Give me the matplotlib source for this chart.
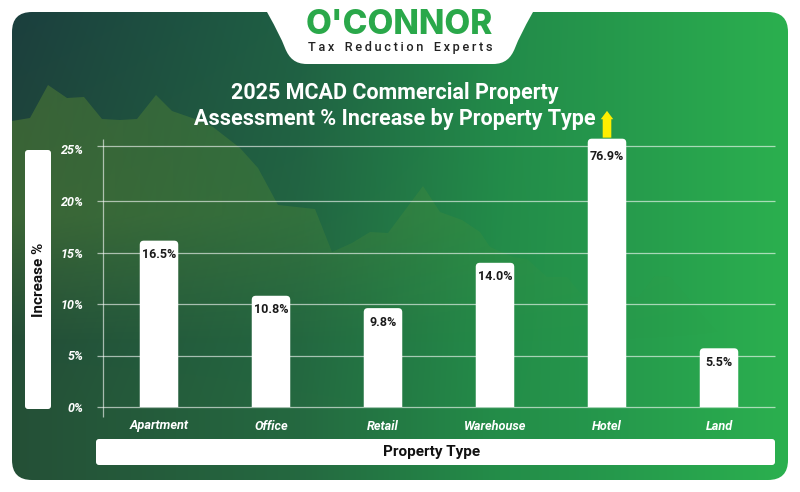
import matplotlib
matplotlib.use('Agg')
import matplotlib.pyplot as plt
import numpy as np
from matplotlib.patches import FancyBboxPatch, PathPatch, Polygon
from matplotlib.path import Path
from matplotlib.colors import to_rgb

plt.rcParams['font.family'] = ['Roboto', 'DejaVu Sans']

# chart data
categories = ['Apartment', 'Office', 'Retail', 'Warehouse', 'Hotel', 'Land']
value_labels = ['16.5%', '10.8%', '9.8%', '14.0%', '76.9%', '5.5%']
bar_heights = [16.15, 10.8, 9.6, 14.0, 26.05, 5.7]  # as drawn, hotel is cut off
y_ticks = [0, 5, 10, 15, 20, 25]
y_tick_labels = ['0%', '5%', '10%', '15%', '20%', '25%']
grid_levels = [0, 5, 10, 15, 20, 25.35]

# skyline behind the chart, in pixels of the image
skyline_x = [12, 30, 48, 67, 84, 102, 120, 137, 156, 172, 195, 213, 240, 258, 278, 315,
             332, 352, 370, 388, 423, 440, 462, 480, 490, 513, 527, 547, 567, 586, 605,
             627, 638, 655, 670, 690, 705, 730, 788]
skyline_y = [121, 118, 85, 98, 97, 119, 120, 119, 95, 111, 119, 127, 148, 168, 205, 209,
             252, 243, 232, 233, 186, 212, 220, 232, 247, 257, 259, 277, 277, 300, 305,
             296, 298, 276, 277, 300, 318, 345, 380]

W, H = 800, 492
fig = plt.figure(figsize=(W / 100, H / 100), dpi=100, facecolor='white')

# background layer in pixel coordinates
bg = fig.add_axes([0, 0, 1, 1], zorder=0)
bg.set_xlim(0, W)
bg.set_ylim(H, 0)
bg.axis('off')

# green panel gradient
stops_x = [12, 300, 500, 788]
stops_c = np.array([to_rgb(c) for c in ['#1b3e3e', '#1f6044', '#228a4a', '#2bb04f']])
xs = np.arange(W) + 0.5
ys = np.arange(H) + 0.5
grad = np.stack([np.interp(xs, stops_x, stops_c[:, i]) for i in range(3)], axis=-1)
grad = np.repeat(grad[np.newaxis, :, :], H, axis=0)
# lighter and greener towards the bottom left
shift = np.clip(ys / 400, 0, 1)[:, None] * np.clip(1 - xs / 600, 0, 1)[None, :]
grad[:, :, 0] += 0.04 * shift
grad[:, :, 1] += 0.07 * shift
grad[:, :, 2] -= 0.03 * shift
grad = np.clip(grad, 0, 1)
panel_img = bg.imshow(grad, extent=(0, W, H, 0), aspect='auto', zorder=1)
panel = FancyBboxPatch((12, 12), 776, 468, boxstyle='round,pad=0,rounding_size=20',
                       facecolor='none', edgecolor='none', transform=bg.transData)
bg.add_patch(panel)
panel_img.set_clip_path(panel)

# skyline, fades out to the right and downwards
rgba = np.zeros((H, W, 4))
rgba[:, :, :3] = to_rgb('#6a9a30')
fade_x = 0.38 * np.clip(1 - xs / 800, 0, 1)
fade_y = np.clip((345 - ys) / 130, 0, 1)
rgba[:, :, 3] = fade_y[:, None] * fade_x[None, :]
sky_img = bg.imshow(rgba, extent=(0, W, H, 0), aspect='auto', zorder=2)
sky_pts = list(zip(skyline_x, skyline_y)) + [(788, 480), (12, 480)]
sky_poly = Polygon(sky_pts, closed=True, facecolor='none', edgecolor='none')
bg.add_patch(sky_poly)
sky_img.set_clip_path(sky_poly)
bg.set_xlim(0, W)
bg.set_ylim(H, 0)

# white tab for the logo
tab_verts = [(262, 5), (267, 12), (277, 30), (281, 38), (285, 48), (289, 58), (295, 64), (307, 64),
             (493, 64), (505, 64), (511, 58), (515, 48), (519, 38), (523, 30), (533, 12),
             (538, 5), (262, 5)]
tab_codes = [Path.MOVETO, Path.LINETO, Path.CURVE4, Path.CURVE4, Path.CURVE4, Path.CURVE4, Path.CURVE4,
             Path.CURVE4, Path.LINETO, Path.CURVE4, Path.CURVE4, Path.CURVE4, Path.CURVE4, Path.CURVE4,
             Path.CURVE4, Path.LINETO, Path.CLOSEPOLY]
bg.add_patch(PathPatch(Path(tab_verts, tab_codes), facecolor='white', edgecolor='none', zorder=3))

bg.text(399.5, 25.5, "O'CONNOR", color='#2aa84a', fontsize=24, fontweight='extra bold',
        family=['Inter', 'DejaVu Sans'], ha='center', va='center', zorder=4)
bg.text(400, 47, '\u2009'.join('Tax') + '\u2009\u2009\u2009\u2009' + '\u2009'.join('Reduction')
        + '\u2009\u2009\u2009\u2009' + '\u2009'.join('Experts'),
        color='#222222', fontsize=9.2, fontweight='medium', ha='center', va='center', zorder=4)

# title
bg.text(394.5, 92.5, '2025 MCAD Commercial Property', color='white', fontsize=15.5,
        fontweight='bold', ha='center', va='center', zorder=4)
bg.text(394.5, 118.5, 'Assessment % Increase by Property Type', color='white', fontsize=15.5,
        fontweight='bold', ha='center', va='center', zorder=4)

# white label boxes
bg.add_patch(FancyBboxPatch((25, 150), 26, 259, boxstyle='round,pad=0,rounding_size=3',
                            facecolor='white', edgecolor='none', zorder=4))
bg.text(39, 280, 'Increase %', color='#111111', fontsize=11, fontweight='bold',
        rotation=90, ha='center', va='center', zorder=5)
bg.add_patch(FancyBboxPatch((96, 439), 679, 26, boxstyle='round,pad=0,rounding_size=3',
                            facecolor='white', edgecolor='none', zorder=4))
bg.text(432, 452, 'Property Type', color='#111111', fontsize=11, fontweight='bold',
        ha='center', va='center', zorder=5)

# chart axes: 0% sits at y=407, 10.3 px per percent, 112 px per category
px_per_pct = 10.3
ymax = 27
ax = fig.add_axes([103 / W, (H - 407) / H, 672 / W, ymax * px_per_pct / H], zorder=1)
ax.patch.set_alpha(0)
ax.set_xlim(-0.5, 5.5)
ax.set_ylim(0, ymax)
for s in ax.spines.values():
    s.set_visible(False)

line_c = (1, 1, 1, 0.6)
tick_out = 6 / 112
ax.hlines(grid_levels, -0.5 - tick_out, 5.5, color=line_c, lw=0.9, zorder=1, clip_on=False)
ax.vlines(-0.5, -1, 26.0, color=line_c, lw=0.9, zorder=1, clip_on=False)

bar_w = 38.5 / 112
x_pos = np.arange(len(categories))
for x, h, lab in zip(x_pos, bar_heights, value_labels):
    # starts below zero so only the top corners show round
    bar = FancyBboxPatch((x - bar_w / 2, -1), bar_w, h + 1,
                         boxstyle='round,pad=0,rounding_size=0.036',
                         mutation_aspect=112 / px_per_pct,
                         facecolor='white', edgecolor='none', zorder=2)
    ax.add_patch(bar)
    drop = -13 if h > 25 else -10
    ax.annotate(lab, (x, h), xytext=(0, drop), textcoords='offset points', color='#1a1a1a',
                fontsize=9, fontweight='bold', ha='center', va='center', zorder=3)

# yellow arrow above the cut-off hotel bar
ax.annotate('', xy=(4, bar_heights[4] + 2.7), xytext=(4, bar_heights[4] + 0.1), zorder=3,
            annotation_clip=False,
            arrowprops=dict(width=6.2, headwidth=9, headlength=6, facecolor='#ffee00',
                            edgecolor='none', shrink=0))

ax.set_yticks(y_ticks, y_tick_labels)
ax.set_xticks(x_pos, categories)
ax.tick_params(axis='y', length=0, pad=14, labelcolor='white')
ax.tick_params(axis='x', length=0, pad=9, labelcolor='white')
for t in ax.get_yticklabels():
    t.set_fontsize(9)
    t.set_fontweight('bold')
    t.set_fontstyle('italic')
for t in ax.get_xticklabels():
    t.set_fontsize(9.2)
    t.set_fontweight('bold')
    t.set_fontstyle('italic')

fig.savefig('out.png', dpi=100)
